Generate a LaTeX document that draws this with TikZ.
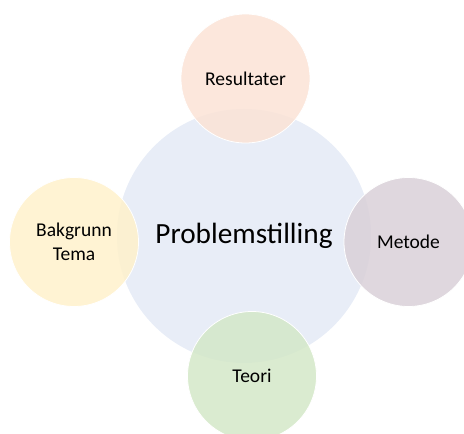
\documentclass[tikz,border=0pt]{standalone}
\usepackage{fontspec}
\setmainfont{Carlito}
\usepackage{tikz}
\usepackage{xcolor}

\definecolor{midt}{HTML}{E8EDF7}
\definecolor{fersken}{HTML}{FBE3D6}
\definecolor{lilla}{HTML}{D9D0D8}
\definecolor{gul}{HTML}{FFF1CB}
\definecolor{gronn}{HTML}{D4E8C8}

\begin{document}
\begin{tikzpicture}[x=1pt, y=1pt, node distance=160pt]
\tikzstyle{sirkel}=[circle,inner sep=0pt,minimum size=129pt,draw=white,
                    line width=0.8pt,fill opacity=0.85,text opacity=1,
                    font=\fontsize{19.5}{23.5}\selectfont,align=center]
\tikzstyle{hoved}=[circle,inner sep=0pt,minimum size=254pt,fill=midt,
                   font=\fontsize{29.3}{34}\selectfont]

\useasboundingbox (0,0) rectangle (464,434);
\clip (0,0) rectangle (464,434);

% midten
\node[hoved] (prob) at (244,198) {Problemstilling};

% de fire rundt
\node[sirkel,fill=fersken] (res) [above of=prob, node distance=157.5pt, xshift=1.5pt] {Resultater};
\node[sirkel,fill=lilla] (met) [right of=prob, node distance=164.5pt, yshift=-6pt] {Metode};
\node[sirkel,fill=gul] (bak) [left of=prob, node distance=170pt, yshift=-6pt] {Bakgrunn\\Tema};
\node[sirkel,fill=gronn] (teo) [below of=prob, node distance=140pt, xshift=8pt] {Teori};
\end{tikzpicture}
\end{document}
